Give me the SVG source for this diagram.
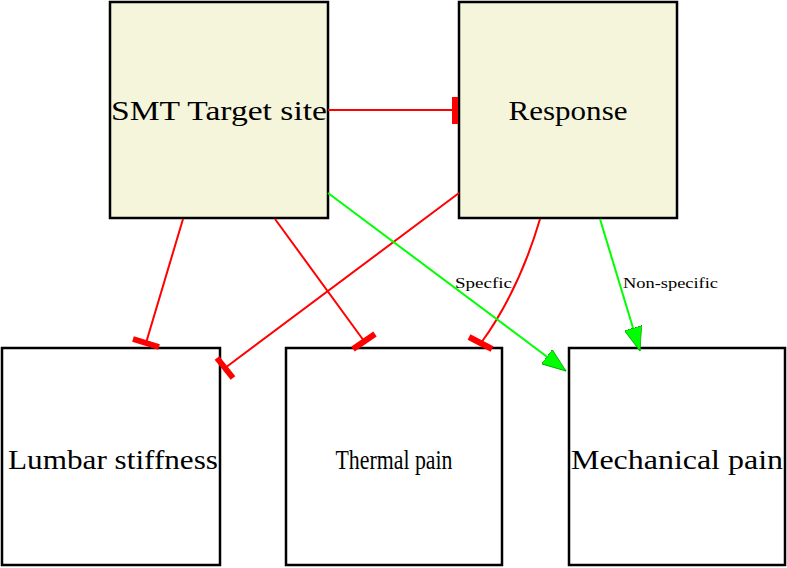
<svg xmlns="http://www.w3.org/2000/svg" width="787" height="568" viewBox="0 0 787 568">
<style>
.n{stroke:#000;stroke-width:2.5}
.t{font-family:"Liberation Serif",serif;font-size:28px;text-anchor:middle;fill:#000}
.l{font-family:"Liberation Serif",serif;font-size:15px;fill:#000}
.r{stroke:#f00;stroke-width:2;fill:none}
.rt{stroke:#f00;stroke-width:6}
.g{stroke:#0f0;stroke-width:2;fill:none}
</style>
<defs>
<marker id="a" viewBox="0 0 10 10" refX="10" refY="5" markerWidth="24" markerHeight="18" orient="auto" markerUnits="userSpaceOnUse" preserveAspectRatio="none">
<path d="M0,0L10,5L0,10Z" fill="#0f0" stroke="#0a0" stroke-width="0.4"/></marker>
</defs>
<rect width="787" height="568" fill="#fff"/>
<g id="smt"><rect class="n" x="110" y="2" width="218" height="216" fill="#f5f5dc"/><text class="t" x="219" y="120" textLength="216" lengthAdjust="spacingAndGlyphs">SMT Target site</text></g>
<g id="response"><rect class="n" x="459" y="2" width="218" height="216" fill="#f5f5dc"/><text class="t" x="568" y="120" textLength="119" lengthAdjust="spacingAndGlyphs">Response</text></g>
<g id="lumbar"><rect class="n" x="2" y="348" width="218" height="217" fill="#fff"/><text class="t" x="113" y="469" textLength="210" lengthAdjust="spacingAndGlyphs">Lumbar stiffness</text></g>
<g id="thermal"><rect class="n" x="286" y="348" width="216" height="217" fill="#fff"/><text class="t" x="394" y="469" textLength="117" lengthAdjust="spacingAndGlyphs">Thermal pain</text></g>
<g id="mech"><rect class="n" x="569" y="348" width="216" height="217" fill="#fff"/><text class="t" x="677" y="469" textLength="212" lengthAdjust="spacingAndGlyphs">Mechanical pain</text></g>
<g id="edges">
<line class="r" x1="328" y1="110" x2="454" y2="110"/><line class="rt" x1="455" y1="97" x2="455" y2="124"/>
<line class="r" x1="183" y1="219" x2="146" y2="343"/><line class="rt" x1="133" y1="339" x2="159" y2="347"/>
<line class="r" x1="275" y1="219" x2="364" y2="341"/><line class="rt" x1="353" y1="349" x2="375" y2="334"/>
<line class="r" x1="459" y1="193" x2="225" y2="368"/><line class="rt" x1="217" y1="358" x2="233" y2="378"/>
<path class="r" d="M540,219 C525,270 505,310 481,343"/><line class="rt" x1="469" y1="337" x2="492" y2="349"/>
<line class="g" x1="328" y1="193" x2="566" y2="371" marker-end="url(#a)"/>
<text class="l" x="455" y="288" textLength="57" lengthAdjust="spacingAndGlyphs">Specfic</text>
<line class="g" x1="600" y1="219" x2="640" y2="351" marker-end="url(#a)"/>
<text class="l" x="623" y="288" textLength="95" lengthAdjust="spacingAndGlyphs">Non-specific</text>
</g>
</svg>
